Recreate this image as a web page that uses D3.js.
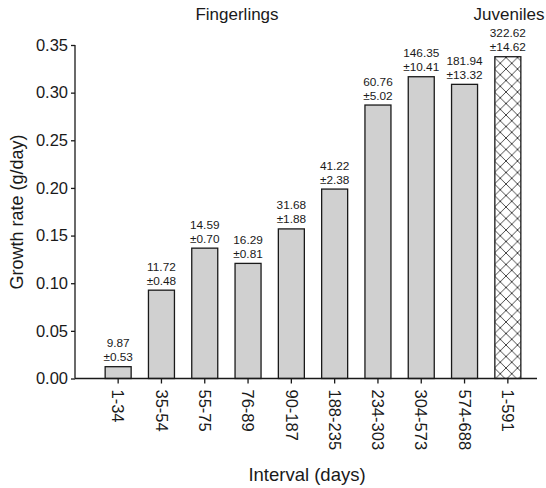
<!DOCTYPE html>
<html>
<head>
<meta charset="utf-8">
<script src="https://cdn.jsdelivr.net/npm/d3@7"></script>
<style>
  html, body { margin: 0; padding: 0; background: #fff; }
  svg { display: block; font-family: "Liberation Sans", Arial, Helvetica, sans-serif; }
</style>
</head>
<body>
<svg id="chart" width="546" height="488"></svg>
<script>
// Age intervals (days) and mean growth rate (g/day)
const intervals = ["1-34", "35-54", "55-75", "76-89", "90-187", "188-235", "234-303", "304-573", "574-688", "1-591"];
const growthRate = [0.0124, 0.0927, 0.1368, 0.1208, 0.157, 0.1988, 0.287, 0.3167, 0.3087, 0.3377];
// Mean body weight ± SE shown above each bar
const weightMean = ["9.87", "11.72", "14.59", "16.29", "31.68", "41.22", "60.76", "146.35", "181.94", "322.62"];
const weightSE = ["±0.53", "±0.48", "±0.70", "±0.81", "±1.88", "±2.38", "±5.02", "±10.41", "±13.32", "±14.62"];
// Life stage of each interval
const stage = ["F", "F", "F", "F", "F", "F", "F", "F", "F", "J"];
const yTicks = [0, 0.05, 0.10, 0.15, 0.20, 0.25, 0.30, 0.35];

const svg = d3.select("#chart");
const axisLeft = 75, axisRight = 537;
const yBottom = 378.5, yTop = 45;
const ink = "#1a1a1a";

const x = d3.scaleBand().domain(intervals).range([96.5, 529.5]).paddingInner(0.4).paddingOuter(0.2);
const y = d3.scaleLinear().domain([0, 0.35]).range([yBottom, yTop]);

// Cross-hatch pattern for the juvenile bar
const defs = svg.append("defs");
const P = 11.5;
const pat = defs.append("pattern")
  .attr("id", "xhatch").attr("patternUnits", "userSpaceOnUse")
  .attr("width", P).attr("height", P).attr("x", 0).attr("y", 0);
pat.append("rect").attr("width", P).attr("height", P).attr("fill", "#fff");
pat.append("path")
  .attr("d", `M0,0L${P},${P}M${P},0L0,${P}M-1,${P - 1}L1,${P + 1}M${P - 1},-1L${P + 1},1M-1,1L1,-1M${P - 1},${P + 1}L${P + 1},${P - 1}`)
  .attr("stroke", "#333").attr("stroke-width", 0.9).attr("fill", "none");

const bw = 26;
const cx = d => x(d) + x.bandwidth() / 2;

// Bars
svg.append("g").selectAll("rect").data(intervals).join("rect")
  .attr("x", (d) => cx(d) - bw / 2)
  .attr("y", (d, i) => y(growthRate[i]))
  .attr("width", bw)
  .attr("height", (d, i) => yBottom - y(growthRate[i]))
  .attr("fill", (d, i) => stage[i] === "J" ? "url(#xhatch)" : "#d0d0d0")
  .attr("stroke", ink).attr("stroke-width", 1.3);

// Two-line value labels (mean, ± SE) above each bar
const lbl = svg.append("g").attr("font-size", 11.8).attr("text-anchor", "middle").attr("fill", ink);
intervals.forEach((d, i) => {
  const top = y(growthRate[i]);
  lbl.append("text").attr("x", cx(d)).attr("y", top - 19.5).text(weightMean[i]);
  lbl.append("text").attr("x", cx(d)).attr("y", top - 5.5).text(weightSE[i]);
});

// Y axis
const yAxis = svg.append("g").attr("transform", `translate(${axisLeft},0)`)
  .call(d3.axisLeft(y).tickValues(yTicks).tickFormat(d3.format(".2f")).tickSize(4).tickPadding(3));
yAxis.select(".domain").attr("d", `M0,${yTop}V${yBottom}`).attr("stroke", ink).attr("stroke-width", 1.3);
yAxis.selectAll(".tick line").attr("stroke", ink).attr("stroke-width", 1.3);
yAxis.selectAll(".tick text").attr("font-size", 16.5).attr("fill", ink).attr("font-family", "Liberation Sans, Arial, sans-serif");

// X axis
const xAxis = svg.append("g").attr("transform", `translate(0,${yBottom})`)
  .call(d3.axisBottom(x).tickSize(5).tickPadding(5));
xAxis.select(".domain").attr("d", `M${axisLeft},0H${axisRight}`).attr("stroke", ink).attr("stroke-width", 1.3);
xAxis.selectAll(".tick line").attr("stroke", ink).attr("stroke-width", 1.3);
xAxis.selectAll(".tick text")
  .attr("font-size", 16.5).attr("fill", ink).attr("font-family", "Liberation Sans, Arial, sans-serif")
  .attr("text-anchor", "start").attr("dy", "0.35em")
  .attr("transform", "rotate(90)").attr("x", 11).attr("y", 0);

// Titles
svg.append("text").attr("x", 237).attr("y", 20).attr("text-anchor", "middle")
  .attr("font-size", 17).attr("fill", ink).text("Fingerlings");
svg.append("text").attr("x", 509).attr("y", 20).attr("text-anchor", "middle")
  .attr("font-size", 17).attr("fill", ink).text("Juveniles");
svg.append("text").attr("x", 307).attr("y", 481).attr("text-anchor", "middle")
  .attr("font-size", 18.5).attr("fill", ink).text("Interval (days)");
svg.append("text").attr("transform", "translate(23,212) rotate(-90)").attr("text-anchor", "middle")
  .attr("font-size", 18).attr("fill", ink).text("Growth rate (g/day)");
</script>
</body>
</html>
